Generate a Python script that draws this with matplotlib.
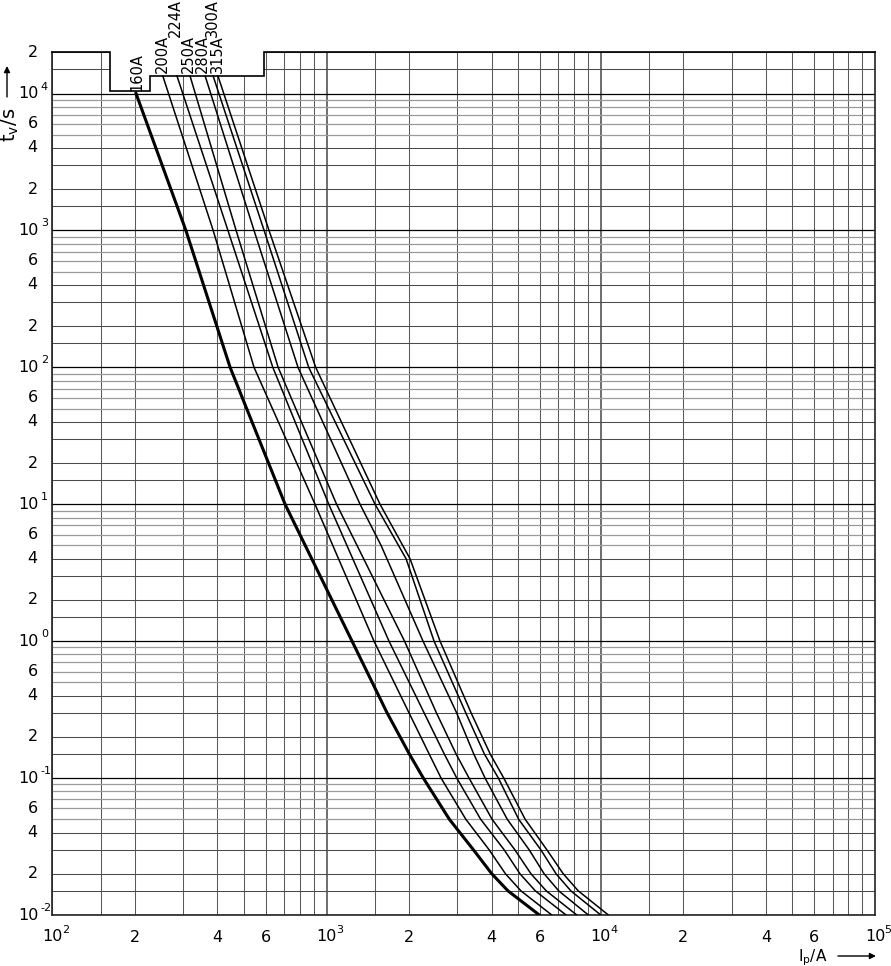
import matplotlib
matplotlib.use('Agg')
import math
import matplotlib.pyplot as plt
import matplotlib.transforms as mtransforms
from matplotlib import font_manager

# ---------------- data ----------------
curve_labels = ['160A', '200A', '224A', '250A', '280A', '300A', '315A']

time_160A = [1e4, 1e3, 100, 10, 1, 0.3, 0.15, 0.1, 0.05, 0.03, 0.02, 0.015, 0.01]
current_160A = [202, 307, 445, 706, 1239, 1662, 2004, 2254, 2805, 3430, 4005, 4590, 5970]

time_std = [1.34e4, 1e3, 100, 10, 1, 0.3, 0.15, 0.1, 0.05, 0.03, 0.02, 0.015, 0.01]
current_200A = [253, 386, 544, 908, 1490, 1998, 2367, 2616, 3221, 3914, 4492, 5117, 6627]
current_224A = [285, 437, 637, 1019, 1690, 2268, 2687, 2985, 3648, 4440, 5074, 5774, 7470]
current_250A = [318, 468, 666, 1088, 1925, 2515, 2967, 3309, 4015, 4857, 5565, 6329, 8176]

time_280A = [1.34e4, 1e3, 100, 10, 5, 1, 0.3, 0.15, 0.1, 0.05, 0.03, 0.02, 0.015, 0.01]
current_280A = [361, 544, 787, 1325, 1581, 2249, 2980, 3442, 3785, 4561, 5477, 6217, 7028, 9010]

time_300A = [1.34e4, 1e3, 100, 10, 4, 1, 0.3, 0.15, 0.1, 0.05, 0.03, 0.02, 0.015, 0.01]
current_300A = [386, 592, 861, 1503, 1950, 2467, 3218, 3763, 4232, 5019, 6042, 6870, 7780, 10000]
current_315A = [402, 617, 913, 1567, 2016, 2594, 3365, 3951, 4429, 5301, 6355, 7297, 8280, 10659]

# label anchor (current at curve top, time at bottom of text)
label_current = [203, 253, 280, 313, 354, 384, 399]
label_time = [1.043e4, 1.41e4, 2.59e4, 1.41e4, 1.41e4, 2.59e4, 1.41e4]

x_tick_values = [1e2, 2e2, 4e2, 6e2, 1e3, 2e3, 4e3, 6e3, 1e4, 2e4, 4e4, 6e4, 1e5]
y_tick_values = [1e-2, 2e-2, 4e-2, 6e-2, 1e-1, 2e-1, 4e-1, 6e-1, 1e0, 2e0, 4e0, 6e0,
                 1e1, 2e1, 4e1, 6e1, 1e2, 2e2, 4e2, 6e2, 1e3, 2e3, 4e3, 6e3, 1e4, 2e4]

# ---------------- styling ----------------
avail = {f.name for f in font_manager.fontManager.ttflist}
FONT = 'Liberation Sans Narrow' if 'Liberation Sans Narrow' in avail else 'DejaVu Sans'
plt.rcParams['font.family'] = [FONT, 'DejaVu Sans']

W, H = 891, 966
fig = plt.figure(figsize=(W / 100, H / 100), dpi=100)
ax = fig.add_axes([52.3 / W, (H - 915) / H, (875 - 52.3) / W, (915 - 52.3) / H])
ax.set_xscale('log')
ax.set_yscale('log')
ax.set_xlim(1e2, 1e5)
ax.set_ylim(1e-2, 2e4)
ax.set_xticks([])
ax.set_yticks([])
ax.minorticks_off()
ax.tick_params(which='both', length=0, labelbottom=False, labelleft=False)
for s in ['left', 'bottom', 'right']:
    ax.spines[s].set_linewidth(1.2)
    ax.spines[s].set_color('#222222')
ax.spines['top'].set_visible(False)

mults = [1, 1.5, 2, 3, 4, 5, 6, 7, 8, 9]
for dec in [1e2, 1e3, 1e4]:
    for m in mults:
        v = dec * m
        if m == 1:
            ax.axvline(v, color='#555555', lw=1.2, zorder=1)
        else:
            ax.axvline(v, color='#5a5a5a', lw=0.75, zorder=1)
for dec in [1e-2, 1e-1, 1e0, 1e1, 1e2, 1e3, 1e4]:
    for m in mults:
        v = dec * m
        if v > 2e4:
            continue
        if m == 1:
            ax.axhline(v, color='black', lw=0.9, zorder=1)
        elif m >= 5:
            ax.axhline(v, color='#9a9a9a', lw=0.9, zorder=1)
        else:
            ax.axhline(v, color='#4a4a4a', lw=0.75, zorder=1)

# notch at top of frame
sx = [100, 162.4, 162.4, 227.1, 227.1, 591.6, 591.6, 1e5]
sy = [2e4, 2e4, 1.043e4, 1.043e4, 1.342e4, 1.342e4, 2e4, 2e4]
ax.fill([162.4, 162.4, 227.1, 227.1, 591.6, 591.6],
        [2.1e4, 1.043e4, 1.043e4, 1.342e4, 1.342e4, 2.1e4],
        color='white', zorder=2, clip_on=False, lw=0)
ax.plot(sx, sy, color='black', lw=1.2, zorder=3, clip_on=False, solid_joinstyle='miter')

# curves
ax.plot(current_160A, time_160A, color='black', lw=2.2, zorder=4, solid_joinstyle='round')
for cur, tt in [(current_200A, time_std), (current_224A, time_std), (current_250A, time_std),
                (current_280A, time_280A), (current_300A, time_300A), (current_315A, time_300A)]:
    ax.plot(cur, tt, color='black', lw=1.1, zorder=4, solid_joinstyle='round')

# curve labels
for lab, xc, yb in zip(curve_labels, label_current, label_time):
    ax.text(xc, yb, lab, rotation=90, ha='center', va='bottom', fontsize=10.5,
            zorder=5, clip_on=False)


def sup_parts(v):
    e = math.floor(math.log10(v) + 1e-9)
    m = v / 10 ** e
    return e, round(m)


xt = ax.get_xaxis_transform()
yt = ax.get_yaxis_transform()
for v in x_tick_values:
    e, m = sup_parts(v)
    if m == 1:
        ax.text(v, 0, '10', transform=mtransforms.offset_copy(xt, fig, x=0, y=-21.5, units='dots'),
                ha='center', va='center', fontsize=11.5, clip_on=False)
        ax.text(v, 0, str(e), transform=mtransforms.offset_copy(xt, fig, x=9.5, y=-15, units='dots'),
                ha='left', va='center', fontsize=8, clip_on=False)
    else:
        ax.text(v, 0, str(m), transform=mtransforms.offset_copy(xt, fig, x=0, y=-23, units='dots'),
                ha='center', va='center', fontsize=11.5, clip_on=False)
for v in y_tick_values:
    e, m = sup_parts(v)
    if m == 1:
        ax.text(0, v, '10', transform=mtransforms.offset_copy(yt, fig, x=-13.3, y=0, units='dots'),
                ha='right', va='center', fontsize=11.5, clip_on=False)
        ax.text(0, v, str(e), transform=mtransforms.offset_copy(yt, fig, x=-11.5, y=7, units='dots'),
                ha='left', va='center', fontsize=8, clip_on=False)
    else:
        ax.text(0, v, str(m), transform=mtransforms.offset_copy(yt, fig, x=-14.5, y=0, units='dots'),
                ha='right', va='center', fontsize=11.5, clip_on=False)

# axis titles with arrows (figure pixel coordinates)
fig.text(10 / W, 1 - 125 / H, r'$\mathregular{t_v/s}$', rotation=90, ha='center', va='center',
         fontsize=14)
ax.annotate('', xy=(7, H - 66), xytext=(7, H - 97), xycoords='figure pixels',
            textcoords='figure pixels',
            arrowprops=dict(arrowstyle='-|>', color='black', lw=1, mutation_scale=9,
                            shrinkA=0, shrinkB=0), annotation_clip=False)
fig.text(813 / W, 1 - 957.5 / H, r'$\mathregular{I_p/A}$', ha='center', va='center', fontsize=11)
ax.annotate('', xy=(876, H - 956), xytext=(838, H - 956), xycoords='figure pixels',
            textcoords='figure pixels',
            arrowprops=dict(arrowstyle='-|>', color='black', lw=1, mutation_scale=9,
                            shrinkA=0, shrinkB=0), annotation_clip=False)

fig.savefig('out.png', dpi=100, facecolor='white')
